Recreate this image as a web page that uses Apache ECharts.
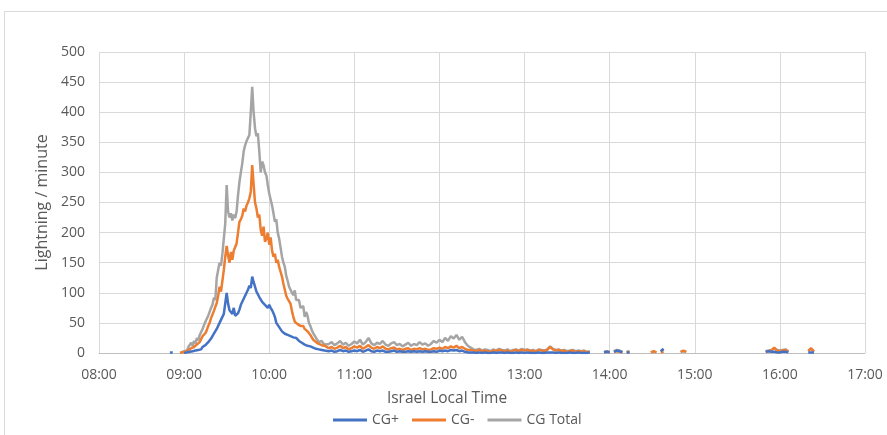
<!DOCTYPE html>
<html>
<head>
<meta charset="utf-8">
<script src="https://cdn.jsdelivr.net/npm/echarts@6/dist/echarts.min.js"></script>
<style>
  html, body { margin: 0; padding: 0; background: #ffffff; }
  #chart { width: 887px; height: 435px; }
</style>
</head>
<body>
<div id="chart"></div>
<script>
// Lightning flash counts per minute (CG+ positive, CG- negative, CG Total),
// time given as minutes after midnight, Israel local time.

// Main storm cell, one record per minute starting 08:50 (530) up to 10:40 (640)
const stormStartMinute = 530;
const stormTotal = [
  null, null, null, null, null, null, null, null, 1, 2,
  3, 6, 4, 10, 13, 17, 12, 20, 16, 25,
  21, 30, 28, 40, 46, 52, 50, 62, 60, 75,
  80, 92, 88, 125, 138, 150, 145, 165, 190, 215,
  279, 235, 225, 232, 220, 230, 224, 235, 262, 284,
  300, 315, 335, 345, 352, 350, 362, 400, 442, 400,
  373, 360, 365, 335, 300, 318, 312, 300, 295, 279,
  265, 255, 245, 232, 218, 222, 200, 190, 175, 160,
  150, 143, 128, 120, 110, 112, 100, 96, 104, 88,
  85, 88, 75, 72, 78, 60, 68, 62, 50, 45,
  38, 33, 30, 25, 22, 18, 17, 20, 16, 17, 14
];
const stormNeg = [
  null, null, null, null, null, null, null, 1, 2, 1,
  1, 2, 3, 5, 6, 8, 7, 10, 9, 14,
  12, 18, 20, 28, 27, 33, 38, 45, 50, 58,
  60, 70, 72, 83, 95, 110, 102, 120, 138, 160,
  178, 162, 150, 168, 155, 170, 176, 182, 200, 218,
  222, 228, 240, 235, 245, 250, 257, 268, 312, 280,
  250, 240, 225, 230, 205, 195, 210, 185, 190, 200,
  180, 192, 170, 160, 165, 150, 155, 143, 135, 127,
  115, 105, 95, 90, 88, 82, 70, 60, 52, 50,
  48, 46, 45, 44, 45, 40, 38, 36, 33, 30,
  26, 22, 20, 18, 16, 15, 14, 13, 12, 12, 10
];
const stormPos = [
  1, 2, 1, null, null, null, null, null, null, null,
  0, 0, 1, 1, 2, 2, 3, 3, 4, 3,
  5, 8, 6, 10, 9, 13, 15, 18, 16, 24,
  27, 32, 30, 40, 38, 50, 55, 52, 65, 68,
  100, 82, 71, 74, 65, 75, 62, 60, 66, 72,
  80, 78, 90, 95, 100, 105, 112, 108, 127, 118,
  115, 102, 104, 93, 95, 85, 88, 80, 82, 75,
  80, 75, 71, 66, 60, 50, 48, 43, 40, 36,
  33, 32, 30, 30, 29, 28, 27, 26, 27, 25,
  22, 20, 18, 17, 16, 14, 13, 12, 12, 11,
  10, 9, 8, 7, 6, 6, 5, 5, 4, 4, 3
];

// Weak activity afterwards, two-minute records from 10:42 (642) to 13:46 (826)
const tailStartMinute = 642;
const tailStepMinutes = 2;
const tailTotal = [
  15, 18, 13, 16, 20, 14, 17, 12, 15, 19,
  16, 22, 14, 18, 25, 16, 13, 17, 15, 20,
  14, 12, 16, 18, 13, 15, 11, 14, 17, 12,
  15, 13, 18, 14, 16, 12, 15, 20, 17, 22,
  18, 25, 20, 28, 24, 30, 22, 27, 18, 12,
  9, 6, 5, 7, 4, 6, 5, 3, 6, 4,
  7, 5, 4, 6, 3, 5, 6, 4, 7, 5,
  6, 4, 5, 3, 6, 5, 4, 6, 11, 7,
  5, 6, 4, 5, 3, 4, 5, 3, 4, 3,
  4, 2, 3
];
const tailNeg = [
  8, 10, 7, 9, 12, 8, 10, 6, 8, 11,
  9, 12, 7, 10, 13, 9, 7, 10, 8, 11,
  7, 6, 8, 9, 6, 7, 5, 7, 8, 5,
  7, 6, 8, 6, 7, 5, 6, 8, 7, 9,
  7, 10, 8, 11, 9, 12, 8, 10, 7, 5,
  5, 4, 3, 5, 3, 4, 3, 2, 4, 3,
  5, 4, 3, 4, 2, 4, 5, 3, 5, 4,
  5, 3, 4, 2, 5, 4, 3, 5, 10, 6,
  4, 5, 3, 4, 2, 3, 4, 2, 3, 2,
  3, 1, 2
];
const tailPos = [
  3, 4, 2, 3, 5, 3, 4, 2, 3, 4,
  3, 5, 2, 4, 6, 3, 2, 4, 3, 4,
  2, 2, 3, 4, 2, 3, 2, 2, 3, 2,
  3, 2, 3, 2, 3, 2, 2, 3, 2, 4,
  3, 4, 3, 5, 4, 5, 3, 4, 2, 1,
  1, 1, 0, 1, 0, 1, 0, 0, 1, 0,
  1, 1, 0, 1, 0, 0, 1, 0, 1, 0,
  1, 0, 0, 0, 1, 0, 0, 1, 1, 1,
  0, 1, 0, 0, 0, 1, 0, 0, 1, 0,
  0, 0, 1
];

// Isolated late flashes (null = no record, breaks the line)
const lateMinutes = [
  828, 836, 838, 840, 841, 843, 845, 847, 849, 850, 852, 854, 855,
  869, 871, 873, 874, 876, 878, 879, 890, 892, 894, 895,
  950, 952, 954, 956, 958, 960, 962, 964, 966, 967, 980, 982, 984
];
const lateTotal = [
  null, 2, 3, 2, null, 3, 5, 4, 2, null, 2, 3, null,
  1, 2, 1, null, 3, 6, null, 2, 3, 2, null,
  3, 4, 5, 8, 5, 4, 5, 6, 3, null, 4, 7, 3
];
const lateNeg = [
  null, 1, 2, 1, null, 2, 3, 2, 1, null, 1, 2, null,
  1, 3, 1, null, 1, 2, null, 2, 4, 2, null,
  2, 3, 4, 9, 4, 3, 4, 5, 2, null, 3, 8, 2
];
const latePos = [
  null, 1, 2, 1, null, 2, 4, 3, 1, null, 1, 1, null,
  null, null, null, null, 3, 7, null, null, null, null, null,
  2, 3, 2, 2, 1, 1, 2, 2, 1, null, 1, 1, 1
];

// Axis
const axisStartMinute = 480;  // 08:00
const axisEndMinute = 1020;   // 17:00
const axisStepMinutes = 60;
const yMax = 500;
const yStep = 50;

const seriesNames = ['CG+', 'CG-', 'CG Total'];
const seriesColors = ['#4472C4', '#ED7D31', '#A5A5A5'];

function pairs(storm, tail, late) {
  const out = [];
  storm.forEach((v, i) => out.push([stormStartMinute + i, v]));
  tail.forEach((v, i) => out.push([tailStartMinute + i * tailStepMinutes, v]));
  late.forEach((v, i) => out.push([lateMinutes[i], v]));
  return out;
}

function hhmm(m) {
  const h = Math.floor(m / 60), mm = m % 60;
  return String(h).padStart(2, '0') + ':' + String(mm).padStart(2, '0');
}

const chart = echarts.init(document.getElementById('chart'), null, { renderer: 'canvas' });
const font = '"Open Sans", "Liberation Sans", sans-serif';
const textColor = '#595959';

const seriesData = [
  pairs(stormPos, tailPos, latePos),
  pairs(stormNeg, tailNeg, lateNeg),
  pairs(stormTotal, tailTotal, lateTotal)
];

chart.setOption({
  animation: false,
  backgroundColor: '#ffffff',
  textStyle: { fontFamily: font },
  grid: { left: 99, right: 22, top: 52, bottom: 82, containLabel: false },
  graphic: [
    {
      type: 'rect',
      shape: { x: 4.5, y: 11.5, width: 900, height: 440 },
      style: { fill: 'none', stroke: '#D9D9D9', lineWidth: 1 },
      silent: true, z: -10
    },
    {
      type: 'text',
      x: 447, y: 399,
      style: {
        text: 'Israel Local Time', fill: textColor, font: '15.5px ' + font,
        align: 'center', verticalAlign: 'middle'
      }
    }
  ],
  legend: {
    data: seriesNames,
    left: 328, top: 408,
    icon: 'rect', itemWidth: 34, itemHeight: 3, itemGap: 13,
    textStyle: { color: textColor, fontSize: 14, fontFamily: font }
  },
  xAxis: {
    type: 'value',
    min: axisStartMinute, max: axisEndMinute, interval: axisStepMinutes,
    axisLine: { show: true, lineStyle: { color: '#BFBFBF', width: 1 } },
    axisTick: { show: false },
    axisLabel: {
      formatter: hhmm, color: textColor, fontSize: 14, margin: 15, fontFamily: font
    },
    splitLine: { show: true, lineStyle: { color: '#D9D9D9', width: 1 } }
  },
  yAxis: {
    type: 'value',
    min: 0, max: yMax, interval: yStep,
    name: 'Lightning / minute',
    nameLocation: 'middle', nameGap: 49,
    nameTextStyle: { color: textColor, fontSize: 16, fontFamily: font },
    axisLine: { show: false },
    axisTick: { show: false },
    axisLabel: { color: textColor, fontSize: 14, margin: 14, fontFamily: font },
    splitLine: { show: true, lineStyle: { color: '#D9D9D9', width: 1 } }
  },
  series: seriesNames.map((name, k) => ({
    name: name,
    type: 'line',
    data: seriesData[k],
    showSymbol: false,
    symbol: 'none',
    connectNulls: false,
    color: seriesColors[k],
    lineStyle: { color: seriesColors[k], width: 2.5 },
    z: 3 + (2 - k)
  }))
});
</script>
</body>
</html>
